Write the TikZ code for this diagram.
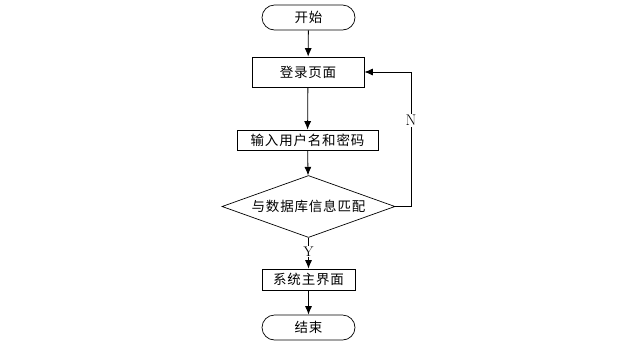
\documentclass[tikz,border=0pt]{standalone}
\usepackage{fontspec}
\newfontfamily\cjk[LetterSpace=6]{Noto Sans CJK SC}
\usetikzlibrary{shapes.geometric,arrows.meta}
\begin{document}
\begin{tikzpicture}[x=1pt,y=-1pt,
  every node/.style={font=\cjk\fontsize{13.5}{15}\selectfont, inner sep=0pt},
  term/.style={draw, line width=0.7pt, rounded corners=12.5pt, minimum width=93pt, minimum height=25pt},
  proc/.style={draw, line width=0.7pt, minimum height=21pt},
  dec/.style={draw, line width=0.7pt, diamond, aspect=2.8, minimum width=173pt, minimum height=62pt},
  arr/.style={draw, line width=0.8pt, -{Latex[length=8.5pt,width=7pt]}},
  lab/.style={fill=white, inner sep=1pt}]
\useasboundingbox (0,0) rectangle (634,346);
\node[term] (start) at (308.5,17.5) {开始};
\node[proc, minimum width=112pt, minimum height=30pt] (login) at (308,72) {登录页面};
\node[proc, minimum width=141pt, minimum height=20pt] (input) at (307.5,140) {输入用户名和密码};
\node[dec] (match) at (308.5,206.5) {与数据库信息匹配};
\node[proc, minimum width=93pt, minimum height=21pt] (sys) at (308.5,279.5) {系统主界面};
\node[term] (end) at (308.5,327.5) {结束};
\coordinate (c1) at (411,206.5);
\coordinate (c2) at (411,72);
\draw[arr] (start) -- (login);
\draw[arr] (login) -- (input);
\draw[arr] (input) -- (match);
\draw[arr] (match) -- node[lab, pos=0.45, font=\fontsize{14}{16}\selectfont] (y) {Y} (sys);
\draw[arr] (sys) -- (end);
\draw[arr] (match.east) -- (c1) -- node[lab, pos=0.64, font=\fontsize{15.5}{17}\selectfont] (n) {N} (c2) -- (login.east);
\end{tikzpicture}
\end{document}
